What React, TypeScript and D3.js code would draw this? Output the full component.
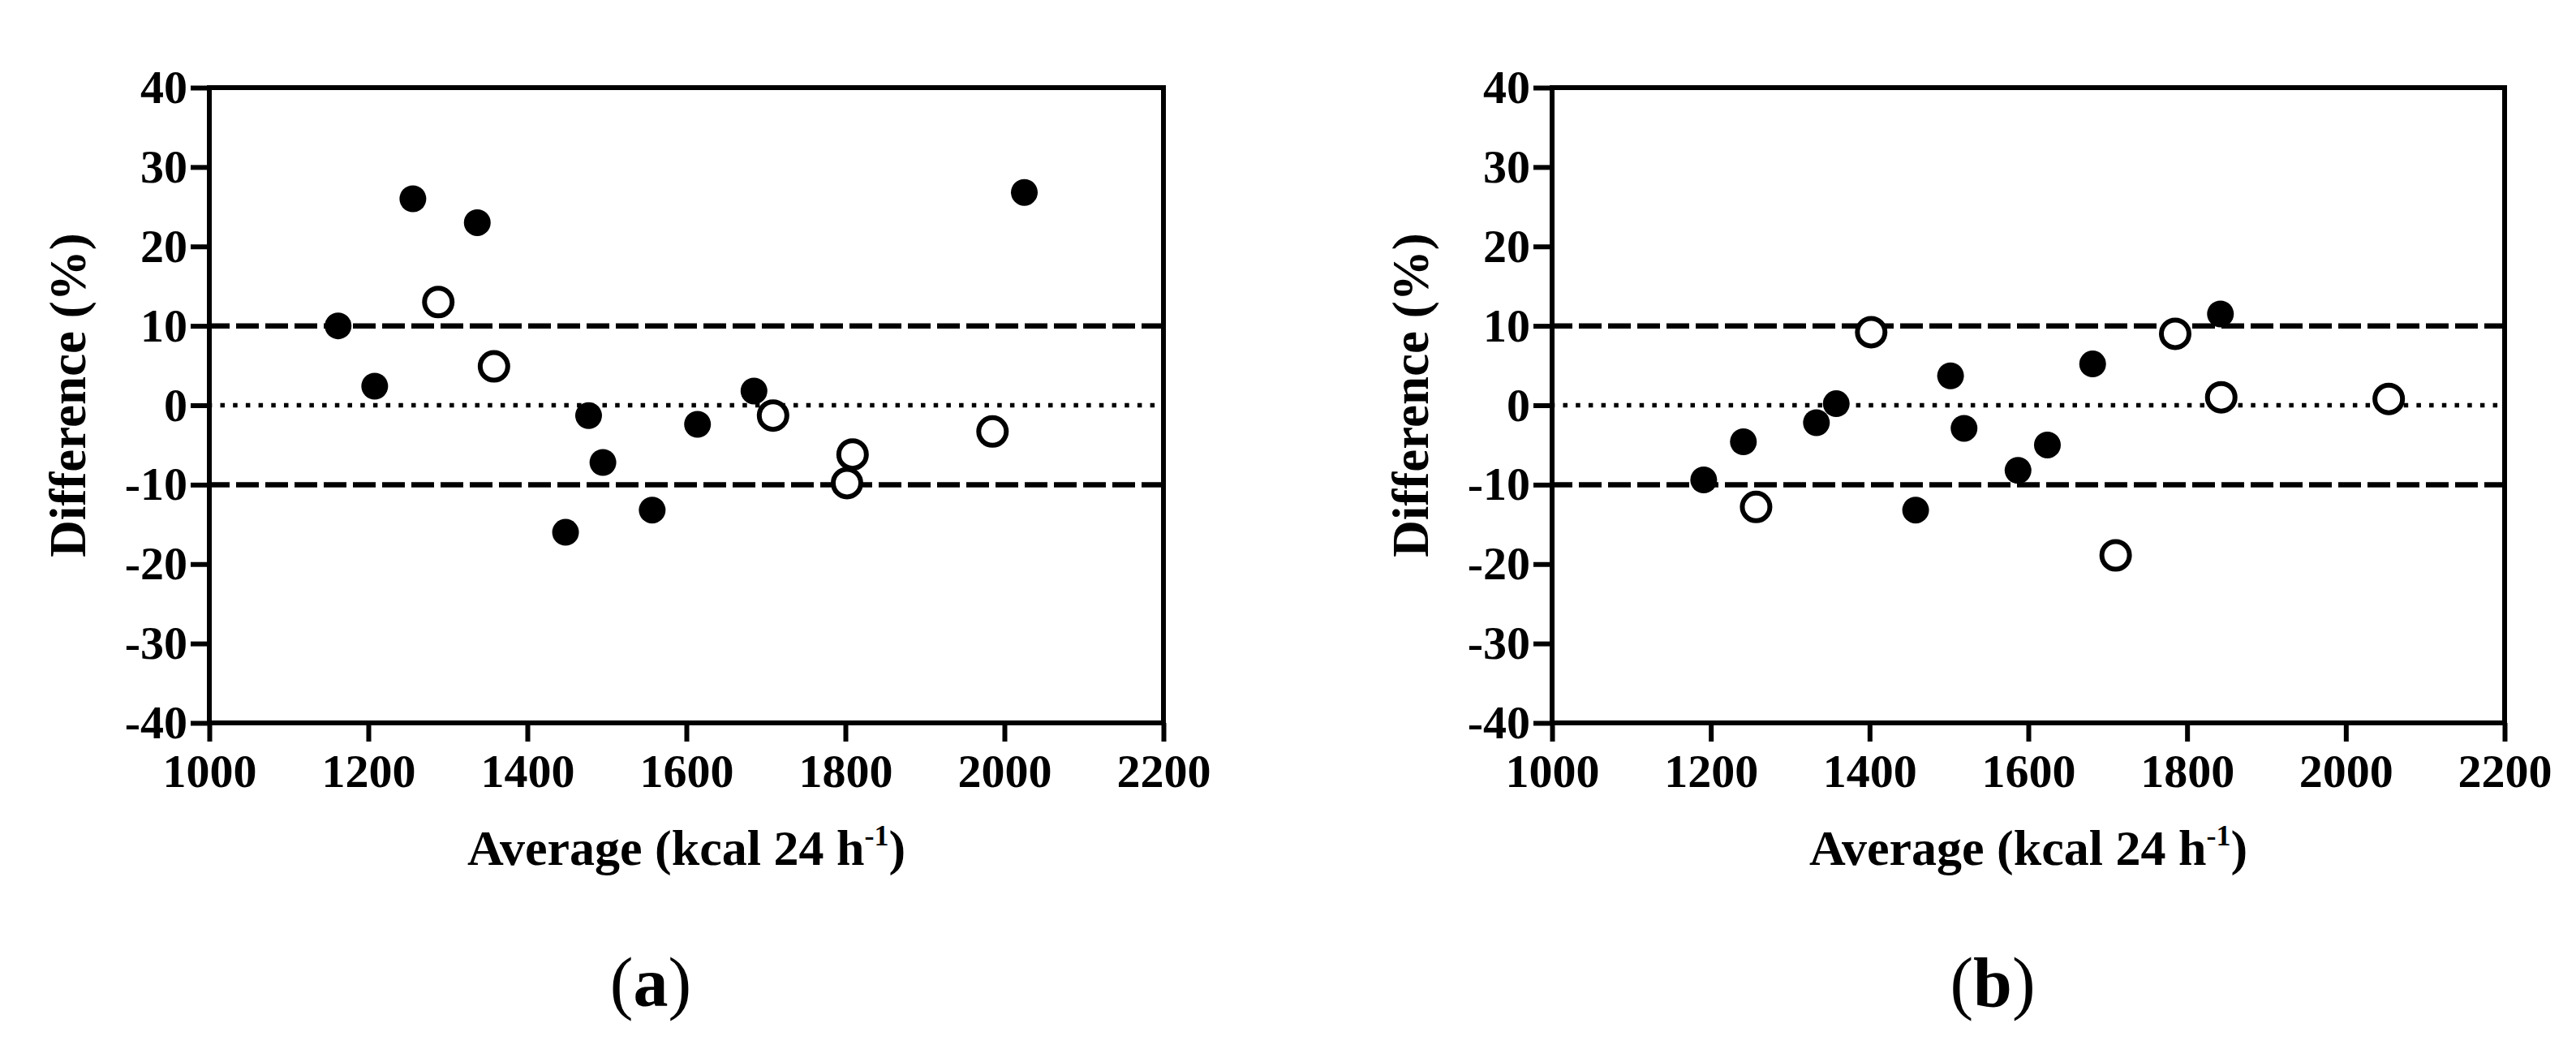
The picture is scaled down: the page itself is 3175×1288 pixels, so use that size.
import React, { useEffect, useRef } from 'react';
import * as d3 from 'd3';

// Axis ticks shared by both panels
const xTicks = [1000, 1200, 1400, 1600, 1800, 2000, 2200];
const yTicks = [-40, -30, -20, -10, 0, 10, 20, 30, 40];
const limitLines = [-10, 10];
const zeroLine = 0;

// Panel (a): filled and open markers
const aFilledX = [1162, 1208, 1256, 1337, 1448, 1477, 1495, 1557, 1614, 1685, 2025];
const aFilledY = [10, 2.4, 26, 23, -16, -1.3, -7.2, -13.2, -2.4, 1.8, 26.8];
const aOpenX = [1288, 1358, 1709, 1809, 1802, 1985];
const aOpenY = [13, 4.9, -1.3, -6.2, -9.8, -3.3];

// Panel (b)
const bFilledX = [1191, 1241, 1333, 1358, 1458, 1502, 1519, 1587, 1624, 1681, 1842];
const bFilledY = [-9.4, -4.6, -2.2, 0.2, -13.2, 3.7, -2.9, -8.2, -5.0, 5.2, 11.5];
const bOpenX = [1257, 1402, 1710, 1785, 1843, 2054];
const bOpenY = [-12.8, 9.2, -18.9, 9.0, 1.0, 0.8];

const xTitle = 'Average (kcal 24 h';
const xTitleSup = '-1';
const yTitle = 'Difference (%)';

const WIDTH = 3175;
const HEIGHT = 1288;
const TOP = 108;
const BOTTOM = 891;
const FONT = '"Liberation Serif", "Times New Roman", serif';

interface Panel {
  label: string;
  left: number;
  right: number;
  filled: [number, number][];
  open: [number, number][];
}

const zip = (xs: number[], ys: number[]): [number, number][] => xs.map((x, i) => [x, ys[i]]);

const panels: Panel[] = [
  { label: 'a', left: 258, right: 1434, filled: zip(aFilledX, aFilledY), open: zip(aOpenX, aOpenY) },
  { label: 'b', left: 1913, right: 3087, filled: zip(bFilledX, bFilledY), open: zip(bOpenX, bOpenY) },
];

export default function App() {
  const svgRef = useRef<SVGSVGElement>(null);

  useEffect(() => {
    if (!svgRef.current) return;
    const svg = d3.select(svgRef.current);
    svg.selectAll('*').remove();

    panels.forEach((p) => {
      const x = d3.scaleLinear().domain([1000, 2200]).range([p.left, p.right]);
      const y = d3.scaleLinear().domain([-40, 40]).range([BOTTOM, TOP]);
      const g = svg.append('g');

      // reference lines
      limitLines.forEach((v) => {
        g.append('line')
          .attr('x1', x(1000))
          .attr('x2', x(2200))
          .attr('y1', y(v))
          .attr('y2', y(v))
          .attr('stroke', '#000')
          .attr('stroke-width', 6.5)
          .attr('stroke-dasharray', '28,8')
          .attr('stroke-dashoffset', 3);
      });
      g.append('line')
        .attr('x1', x(1000))
        .attr('x2', x(2200))
        .attr('y1', y(zeroLine))
        .attr('y2', y(zeroLine))
        .attr('stroke', '#000')
        .attr('stroke-width', 5.5)
        .attr('stroke-dasharray', '5.5,10.2')
        .attr('stroke-dashoffset', -13.5);

      // frame
      g.append('rect')
        .attr('x', x(1000))
        .attr('y', y(40))
        .attr('width', x(2200) - x(1000))
        .attr('height', y(-40) - y(40))
        .attr('fill', 'none')
        .attr('stroke', '#000')
        .attr('stroke-width', 6);

      // axes (plain hyphen for negatives, as in the figure)
      const fmt = (d: d3.NumberValue) => String(d);
      const yAxis = g.append('g')
        .attr('transform', `translate(${x(1000)},0)`)
        .call(d3.axisLeft(y).tickValues(yTicks).tickSize(23).tickSizeOuter(0).tickPadding(4).tickFormat(fmt));
      const xAxis = g.append('g')
        .attr('transform', `translate(0,${y(-40)})`)
        .call(d3.axisBottom(x).tickValues(xTicks).tickSize(23).tickSizeOuter(0).tickPadding(15).tickFormat(fmt));
      [yAxis, xAxis].forEach((ax) => {
        ax.select('.domain').remove();
        ax.selectAll('.tick line').attr('stroke', '#000').attr('stroke-width', 6);
        ax.selectAll('.tick text')
          .attr('fill', '#000')
          .style('font-family', FONT)
          .style('font-weight', 'bold')
          .style('font-size', '58px');
      });

      // markers
      g.selectAll('.open')
        .data(p.open)
        .join('circle')
        .attr('cx', (d) => x(d[0]))
        .attr('cy', (d) => y(d[1]))
        .attr('r', 17)
        .attr('fill', '#fff')
        .attr('stroke', '#000')
        .attr('stroke-width', 6);
      g.selectAll('.filled')
        .data(p.filled)
        .join('circle')
        .attr('cx', (d) => x(d[0]))
        .attr('cy', (d) => y(d[1]))
        .attr('r', 16.5)
        .attr('fill', '#000');

      const cx = (p.left + p.right) / 2;

      // x title with superscript
      const xt = g.append('text')
        .attr('x', cx)
        .attr('y', 1066)
        .attr('text-anchor', 'middle')
        .style('font-family', FONT)
        .style('font-weight', 'bold')
        .style('font-size', '62px');
      xt.append('tspan').text(xTitle);
      xt.append('tspan').attr('dy', -24).style('font-size', '36px').text(xTitleSup);
      xt.append('tspan').attr('dy', 24).text(')');

      // y title
      g.append('text')
        .attr('transform', `translate(${p.left - 153},487) rotate(-90)`)
        .attr('text-anchor', 'middle')
        .style('font-family', FONT)
        .style('font-weight', 'bold')
        .style('font-size', '63px')
        .text(yTitle);

      // panel label
      const lt = g.append('text')
        .attr('x', cx - 44)
        .attr('y', 1240)
        .attr('text-anchor', 'middle')
        .style('font-family', FONT)
        .style('font-size', '86px');
      lt.append('tspan').text('(');
      lt.append('tspan').style('font-weight', 'bold').text(p.label);
      lt.append('tspan').text(')');
    });

    return () => {
      svg.selectAll('*').remove();
    };
  }, []);

  return (
    <>
      <style>{'body{margin:0}'}</style>
      <svg ref={svgRef} width={WIDTH} height={HEIGHT} style={{ display: 'block', background: '#fff' }} />
    </>
  );
}
